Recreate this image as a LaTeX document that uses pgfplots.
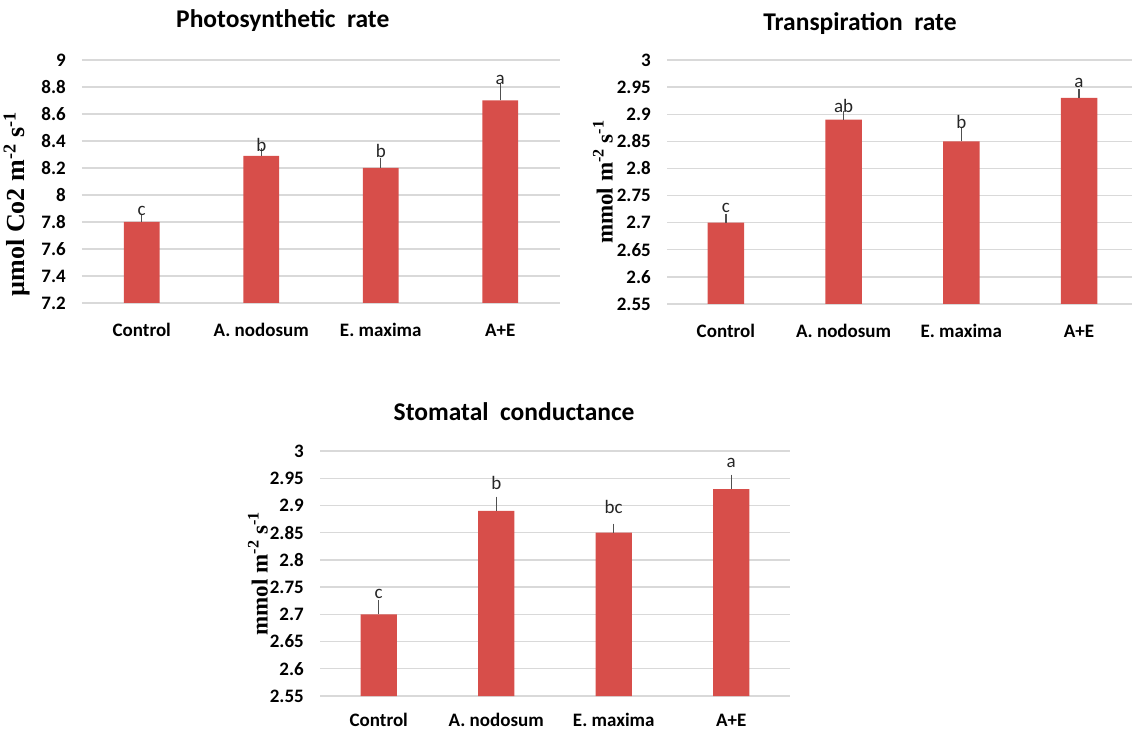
\documentclass[border=0pt]{standalone}
\usepackage{pgfplots}
\pgfplotsset{compat=1.18}
\usepackage{fontspec}
\setmainfont{Carlito}
\newfontfamily\tnr{Liberation Serif}

\definecolor{barred}{RGB}{215,78,74}
\definecolor{gridgray}{RGB}{217,217,217}
\definecolor{errgray}{RGB}{80,80,80}

\tikzset{lett/.style={anchor=base, inner sep=0pt, font=\fontsize{19}{19}\selectfont, text=black!85}}

\pgfplotsset{
  panel/.style={
    scale only axis,
    enlargelimits=false,
    xmin=-0.5, xmax=3.5,
    axis line style={draw=none},
    major tick length=0pt,
    ymajorgrids,
    grid style={gridgray, line width=1.3pt},
    xtick={0,1,2,3},
    xticklabels={Control, A. nodosum, E. maxima, A+E},
    xticklabel style={font=\bfseries\fontsize{19}{19}\selectfont, anchor=base, yshift=-34pt},
    yticklabel style={font=\bfseries\fontsize{19}{19}\selectfont, anchor=east, inner sep=0pt, xshift=-16pt},
    /pgf/number format/assume math mode=true,
    ylabel style={font=\tnr\bfseries\fontsize{23}{24}\selectfont, anchor=center},
    title style={font=\bfseries\fontsize{25.5}{28}\selectfont, anchor=base},
    ybar, bar width=0.31,
  },
  bars/.style={fill=barred, draw=none,
    error bars/.cd, y dir=plus, y explicit, error mark=-,
    error bar style={errgray, line width=1.3pt},
    error mark options={errgray, line width=1.3pt, mark size=3.5pt}},
}

\begin{document}
\begin{tikzpicture}
\useasboundingbox (0pt,0pt) rectangle (1132pt,729pt);

% Photosynthetic rate
\begin{axis}[panel, at={(82pt,426pt)}, anchor=south west,
  width=478pt, height=243pt, bar width=0.30,
  ymin=7.2, ymax=9, ytick={7.2,7.4,7.6,7.8,8,8.2,8.4,8.6,8.8,9},
  title={Photosynthetic~~rate},
  title style={at={(axis description cs:0.42,1.107)}},
  ylabel={µmol Co2 m\textsuperscript{-2} s\textsuperscript{-1}},
  ylabel style={font=\tnr\bfseries\fontsize{26}{28}\selectfont,
    at={(axis description cs:-0.136,0.407)}}]
\addplot[bars] coordinates {
  (0,7.80) +- (0,0.035)
  (1,8.29) +- (0,0.03)
  (2,8.20) +- (0,0.05)
  (3,8.70) +- (0,0.10)
};
\node[lett] at (axis cs:0,7.845) {c};
\node[lett] at (axis cs:1,8.32) {b};
\node[lett] at (axis cs:2,8.28) {b};
\node[lett] at (axis cs:3,8.82) {a};
\end{axis}

% Transpiration rate
\begin{axis}[panel, at={(667pt,425pt)}, anchor=south west,
  width=465pt, height=244pt, xmax=3.45,
  ymin=2.55, ymax=3, ytick={2.55,2.6,2.65,2.7,2.75,2.8,2.85,2.9,2.95,3},
  title={Transpiration~~rate},
  title style={at={(axis description cs:0.415,1.098)}},
  ylabel={mmol m\textsuperscript{-2} s\textsuperscript{-1}},
  ylabel style={at={(axis description cs:-0.138,0.5)}}]
\addplot[bars] coordinates {
  (0,2.70) +- (0,0.01)
  (1,2.89) +- (0,0.01)
  (2,2.85) +- (0,0.02)
  (3,2.93) +- (0,0.01)
};
\node[lett] at (axis cs:0,2.718) {c};
\node[lett] at (axis cs:1,2.903) {ab};
\node[lett] at (axis cs:2,2.874) {b};
\node[lett] at (axis cs:3,2.95) {a};
\end{axis}

% Stomatal conductance
\begin{axis}[panel, at={(320pt,33pt)}, anchor=south west,
  width=470pt, height=245pt,
  xticklabel style={yshift=4pt},
  ymin=2.55, ymax=3, ytick={2.55,2.6,2.65,2.7,2.75,2.8,2.85,2.9,2.95,3},
  title={Stomatal~~conductance},
  title style={at={(axis description cs:0.413,1.102)}},
  ylabel={mmol m\textsuperscript{-2} s\textsuperscript{-1}},
  ylabel style={at={(axis description cs:-0.132,0.5)}}]
\addplot[bars] coordinates {
  (0,2.70) +- (0,0.02)
  (1,2.89) +- (0,0.02)
  (2,2.85) +- (0,0.01)
  (3,2.93) +- (0,0.02)
};
\node[lett] at (axis cs:0,2.729) {c};
\node[lett] at (axis cs:1,2.93) {b};
\node[lett] at (axis cs:2,2.886) {bc};
\node[lett] at (axis cs:3,2.97) {a};
\end{axis}
\end{tikzpicture}
\end{document}
